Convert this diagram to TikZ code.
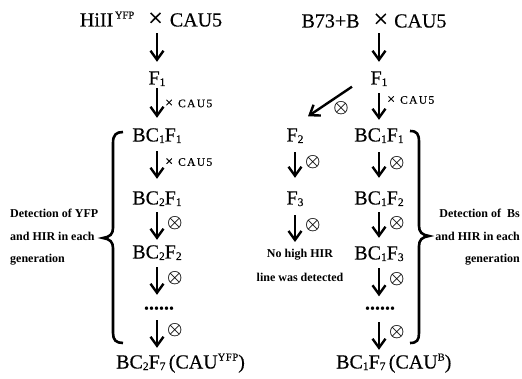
\documentclass[tikz,border=0pt]{standalone}
\usepackage{fontspec}
\setmainfont{Liberation Serif}
\newfontfamily\heavyserif[FakeBold=0.4]{Liberation Serif}
\usetikzlibrary{arrows.meta,calc}
\newcommand{\lo}[1]{\raisebox{-1.5pt}{\fontsize{11.5}{11.5}\selectfont #1}}
\newcommand{\hi}[1]{\raisebox{8pt}{\fontsize{10.5}{10.5}\selectfont #1}}
\newcommand{\bigx}{{\fontsize{26}{26}\selectfont ×}}
\newcommand{\smallcau}{{\fontsize{14}{14}\selectfont ×}\hspace{5pt}{\addfontfeature{LetterSpace=12}CAU5}}
\begin{document}
\begin{tikzpicture}[x=1pt,y=-1pt,
  mainnode/.style={font=\heavyserif\fontsize{20}{20}\selectfont, inner sep=0pt, text height=13pt, text depth=0pt},
  sidelabel/.style={font=\bfseries, inner sep=0pt},
  arr/.style={line width=2.4pt, -{Straight Barb[length=9pt,width=13pt]}},
  ox/.style={anchor=west, inner sep=0pt, font=\boldmath\fontsize{19}{19}\selectfont, xshift=9pt},
  cau/.style={anchor=west, inner sep=0pt, font=\heavyserif\fontsize{11.5}{11.5}\selectfont, xshift=7pt},
  bracepath/.style={line width=2.6pt}]
\useasboundingbox (0,0) rectangle (522,379);

% left column
\node[mainnode] (top1) at (151,20) {HiII\hi{\,YFP}\hspace{14pt}\bigx\hspace{7pt}CAU5};
\node[mainnode] (f1a) at (157,78) {F\lo{1}};
\node[mainnode] (bc1f1a) at (157,135) {BC\lo{1}F\lo{1}};
\node[mainnode] (bc2f1) at (157,198) {BC\lo{2}F\lo{1}};
\node[mainnode] (bc2f2) at (157,252) {BC\lo{2}F\lo{2}};
\node[mainnode] (dots1) at (159,303) {\textbf{......}};
\node[mainnode, anchor=west] (bc2f7) at (116,362) {BC\lo{2}F\lo{7}\,(CAU\hi{\addfontfeature{LetterSpace=6}YFP})};

\draw[arr, shorten <=6.5pt, shorten >=9.5pt] (top1.south -| f1a) -- (f1a.north);
\draw[arr, shorten <=3.5pt, shorten >=10.5pt] (f1a.south) -- (bc1f1a.north)
  node[cau, pos=0.43] {\smallcau};
\draw[arr, shorten <=9.5pt, shorten >=12.5pt] (bc1f1a.south) -- (bc2f1.north)
  node[cau, pos=0.41] {\smallcau};
\draw[arr, shorten <=7.5pt, shorten >=5.5pt] (bc2f1.south) -- (bc2f2.north)
  node[ox, pos=0.45] {$\otimes$};
\draw[arr, shorten <=8.5pt, shorten >=1.5pt] (bc2f2.south) -- (bc2f2 |- dots1.north)
  node[ox, pos=0.51] {$\otimes$};
\draw[arr, shorten <=10.5pt, shorten >=7.5pt] (dots1.south -| bc2f2) -- (bc2f2 |- bc2f7.north)
  node[ox, pos=0.45] {$\otimes$};

% left brace and label
\draw[bracepath] (123,132) .. controls (116,132) and (113,135) .. (113,143)
  -- (113,228) .. controls (113,234) and (110,237) .. (103,238)
  .. controls (110,239) and (113,242) .. (113,248)
  -- (113,333) .. controls (113,340) and (116,343) .. (123,343);
\node[sidelabel, anchor=north west, align=left, font=\bfseries\fontsize{12}{22.5}\selectfont] (lab1) at (10,209)
  {Detection of YFP\\and HIR in each\\generation};

% right column
\node[mainnode] (top2) at (374,21) {B73+B\hspace{14pt}\bigx\hspace{6pt}CAU5};
\node[mainnode] (f1b) at (379,78) {F\lo{1}};
\node[mainnode] (bc1f1b) at (379,135) {BC\lo{1}F\lo{1}};
\node[mainnode] (bc1f2) at (379,198) {BC\lo{1}F\lo{2}};
\node[mainnode] (bc1f3) at (379,253) {BC\lo{1}F\lo{3}};
\node[mainnode] (dots2) at (380,303) {\textbf{......}};
\node[mainnode, anchor=west] (bc1f7) at (336,362) {BC\lo{1}F\lo{7}\,(CAU\hi{B})};

\draw[arr, shorten <=5.5pt, shorten >=9.5pt] (top2.south -| f1b) -- (f1b.north);
\draw[arr, shorten <=8.5pt, shorten >=8.5pt] (f1b.south) -- (bc1f1b.north)
  node[cau, pos=0.35] {\smallcau};
\draw[arr, shorten <=10.5pt, shorten >=13.5pt] (bc1f1b.south) -- (bc1f2.north)
  node[ox, pos=0.43] {$\otimes$};
\draw[arr, shorten <=7.5pt, shorten >=8.5pt] (bc1f2.south) -- (bc1f3.north)
  node[ox, pos=0.44] {$\otimes$};
\draw[arr, shorten <=8.5pt, shorten >=0pt] (bc1f3.south) -- (bc1f3 |- dots2.north)
  node[ox, pos=0.53] {$\otimes$};
\draw[arr, shorten <=12.5pt, shorten >=5.5pt] (dots2.south -| bc1f3) -- (bc1f3 |- bc1f7.north)
  node[ox, pos=0.49] {$\otimes$};

% side branch
\node[mainnode] (f2) at (295,135) {F\lo{2}};
\node[mainnode] (f3) at (295,198) {F\lo{3}};
\node[sidelabel, anchor=north, align=center, font=\bfseries\fontsize{12}{24}\selectfont] (nohigh) at (300,249) {No high HIR\\line was detected};
\draw[arr] ($(f1b.south)+(-27,2)$) -- ($(f2.north)+(13,-12)$);
\node[inner sep=0pt, font=\boldmath\fontsize{19}{19}\selectfont] (oxd) at (341,108) {$\otimes$};
\draw[arr, shorten <=10.5pt, shorten >=13.5pt] (f2.south) -- (f2 |- f3.north)
  node[ox, pos=0.41] {$\otimes$};
\draw[arr, shorten <=10.5pt, shorten >=7pt] (f3.south) -- (f3 |- nohigh.north)
  node[ox, pos=0.46] {$\otimes$};

% right brace and label
\draw[bracepath] (410,131) .. controls (417,131) and (419,134) .. (419,142)
  -- (419,226) .. controls (419,232) and (422,235) .. (429,236)
  .. controls (422,237) and (419,240) .. (419,246)
  -- (419,333) .. controls (419,340) and (417,343) .. (410,343);
\node[sidelabel, anchor=north east, align=right, font=\bfseries\fontsize{12}{22.5}\selectfont] (lab2) at (520,209)
  {Detection of\enspace Bs\\and HIR in each\\generation};
\end{tikzpicture}
\end{document}
